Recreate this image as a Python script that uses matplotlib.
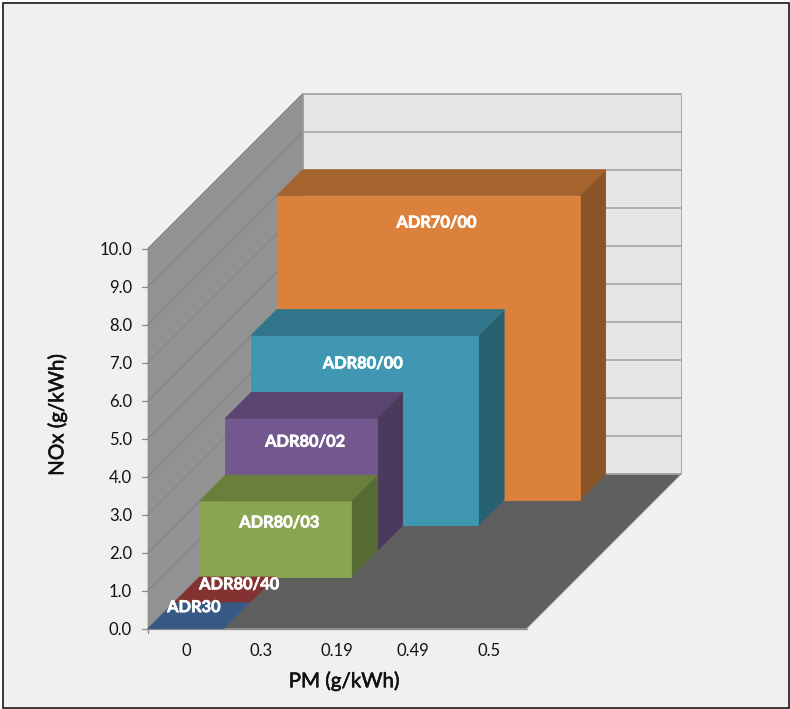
import matplotlib
matplotlib.use("Agg")
import matplotlib.pyplot as plt
import matplotlib.patheffects as pe
from matplotlib.patches import Polygon, Rectangle

plt.rcParams['font.family'] = ['Lato', 'DejaVu Sans']

# Emission stages: NOx limit and the number of PM categories each one spans
series_names = ["ADR30", "ADR80/40", "ADR80/03", "ADR80/02", "ADR80/00", "ADR70/00"]
nox_values = [0.0, 0.0, 2.0, 3.5, 5.0, 8.0]
pm_spans = [1, 1, 2, 2, 3, 4]
pm_labels = ["0", "0.3", "0.19", "0.49", "0.5"]
nox_ticks = [0, 1, 2, 3, 4, 5, 6, 7, 8, 9, 10]

face_colors = ["#4F81BD", "#C0504D", "#8AA650", "#73588F", "#3F97B2", "#DB813C"]
top_colors = ["#375A85", "#823331", "#6B7F3C", "#5A4570", "#31758A", "#A5642E"]
side_colors = ["#2D4A6E", "#6B2A28", "#566A33", "#4A3A5C", "#27616F", "#8A5426"]
label_offsets = [(8, -20.5), (27.5, -17.5), (4, 22.5), (4, 24.5), (-2, 29), (8, 28)]

# Oblique projection of (category, NOx, depth) into figure pixels
X0, Y0 = 148.0, 628.6
CAT_W = 75.7
NOX_H = 38.0
DEPTH = 25.8
N_CATS = len(pm_labels)
N_DEPTH = len(series_names)


def proj(cat, nox, depth):
    return (X0 + cat * CAT_W + depth * DEPTH,
            Y0 - nox * NOX_H - depth * DEPTH)


fig = plt.figure(figsize=(7.9, 7.09), dpi=100, facecolor="white")
ax = fig.add_axes([0, 0, 1, 1])
ax.set_xlim(0, 790)
ax.set_ylim(709, 0)
ax.axis("off")

ax.add_patch(Rectangle((3, 2.5), 786, 705.5, facecolor="#F0F0F0",
                       edgecolor="#2A2A2A", linewidth=1.3, zorder=0))


def quad(points, color, z, edge=None):
    ax.add_patch(Polygon(points, closed=True, facecolor=color,
                         edgecolor=edge or color, linewidth=0.6, zorder=z))


top = nox_ticks[-1]

# Chart walls and floor
quad([proj(0, 0, N_DEPTH), proj(N_CATS, 0, N_DEPTH),
      proj(N_CATS, top, N_DEPTH), proj(0, top, N_DEPTH)], "#E6E6E6", 1, "#9A9A9A")
quad([proj(0, 0, 0), proj(0, 0, N_DEPTH),
      proj(0, top, N_DEPTH), proj(0, top, 0)], "#929292", 1)
quad([proj(0, 0, 0), proj(N_CATS, 0, 0),
      proj(N_CATS, 0, N_DEPTH), proj(0, 0, N_DEPTH)], "#5F5F5F", 1, "#8A8A8A")

# Gridlines and value ticks
for v in nox_ticks:
    a, b, c = proj(0, v, 0), proj(0, v, N_DEPTH), proj(N_CATS, v, N_DEPTH)
    ax.plot([a[0], b[0]], [a[1], b[1]], color="#858585", lw=0.9, zorder=2)
    ax.plot([b[0], c[0]], [b[1], c[1]], color="#A6A6A6", lw=1.2, zorder=2)
    ax.plot([a[0] - 6, a[0]], [a[1], a[1]], color="#8C8C8C", lw=0.9, zorder=2)
    ax.text(a[0] - 16, a[1] + 1, f"{v:.1f}", ha="right", va="center",
            fontsize=12, color="#111111", zorder=8)

ax.plot([X0, X0], [Y0, Y0 + 4], color="#8C8C8C", lw=0.9, zorder=2)
ax.plot([X0, X0 + N_CATS * CAT_W], [Y0, Y0], color="#8C8C8C", lw=0.9, zorder=2)

for i, name in enumerate(pm_labels):
    x, _ = proj(i + 0.5, 0, 0)
    ax.text(x, 651, name, ha="center", va="center", fontsize=12,
            color="#111111", zorder=8)

# Blocks, farthest series first so the nearer ones cover them
for d in range(N_DEPTH - 1, -1, -1):
    h, w = nox_values[d], pm_spans[d]
    z = 3 + (N_DEPTH - d) * 0.1
    if h > 0:
        quad([proj(w, 0, d), proj(w, 0, d + 1), proj(w, h, d + 1), proj(w, h, d)],
             side_colors[d], z)
        quad([proj(0, 0, d), proj(w, 0, d), proj(w, h, d), proj(0, h, d)],
             face_colors[d], z)
    quad([proj(0, h, d), proj(w, h, d), proj(w, h, d + 1), proj(0, h, d + 1)],
         top_colors[d], z)

# Series labels, thickened slightly so they hold up on the dark fills
heavy = [pe.withStroke(linewidth=0.5, foreground="white")]
for d, name in enumerate(series_names):
    h, w = nox_values[d], pm_spans[d]
    cx, ty = proj(w / 2, h, d)
    dx, dy = label_offsets[d]
    ax.text(cx + dx, ty + dy, name, ha="center", va="center", fontsize=11.8,
            fontweight="bold", color="white", zorder=9, path_effects=heavy)

# Axis titles
title_stroke = [pe.withStroke(linewidth=0.4, foreground="#111111")]
ax.text(57, 415, "NOx (g/kWh)", rotation=90, ha="center", va="center",
        fontsize=14.8, color="#111111", path_effects=title_stroke)
ax.text(344, 681, "PM (g/kWh)", ha="center", va="center",
        fontsize=14.8, color="#111111", path_effects=title_stroke)

fig.savefig("out.png", dpi=100)
